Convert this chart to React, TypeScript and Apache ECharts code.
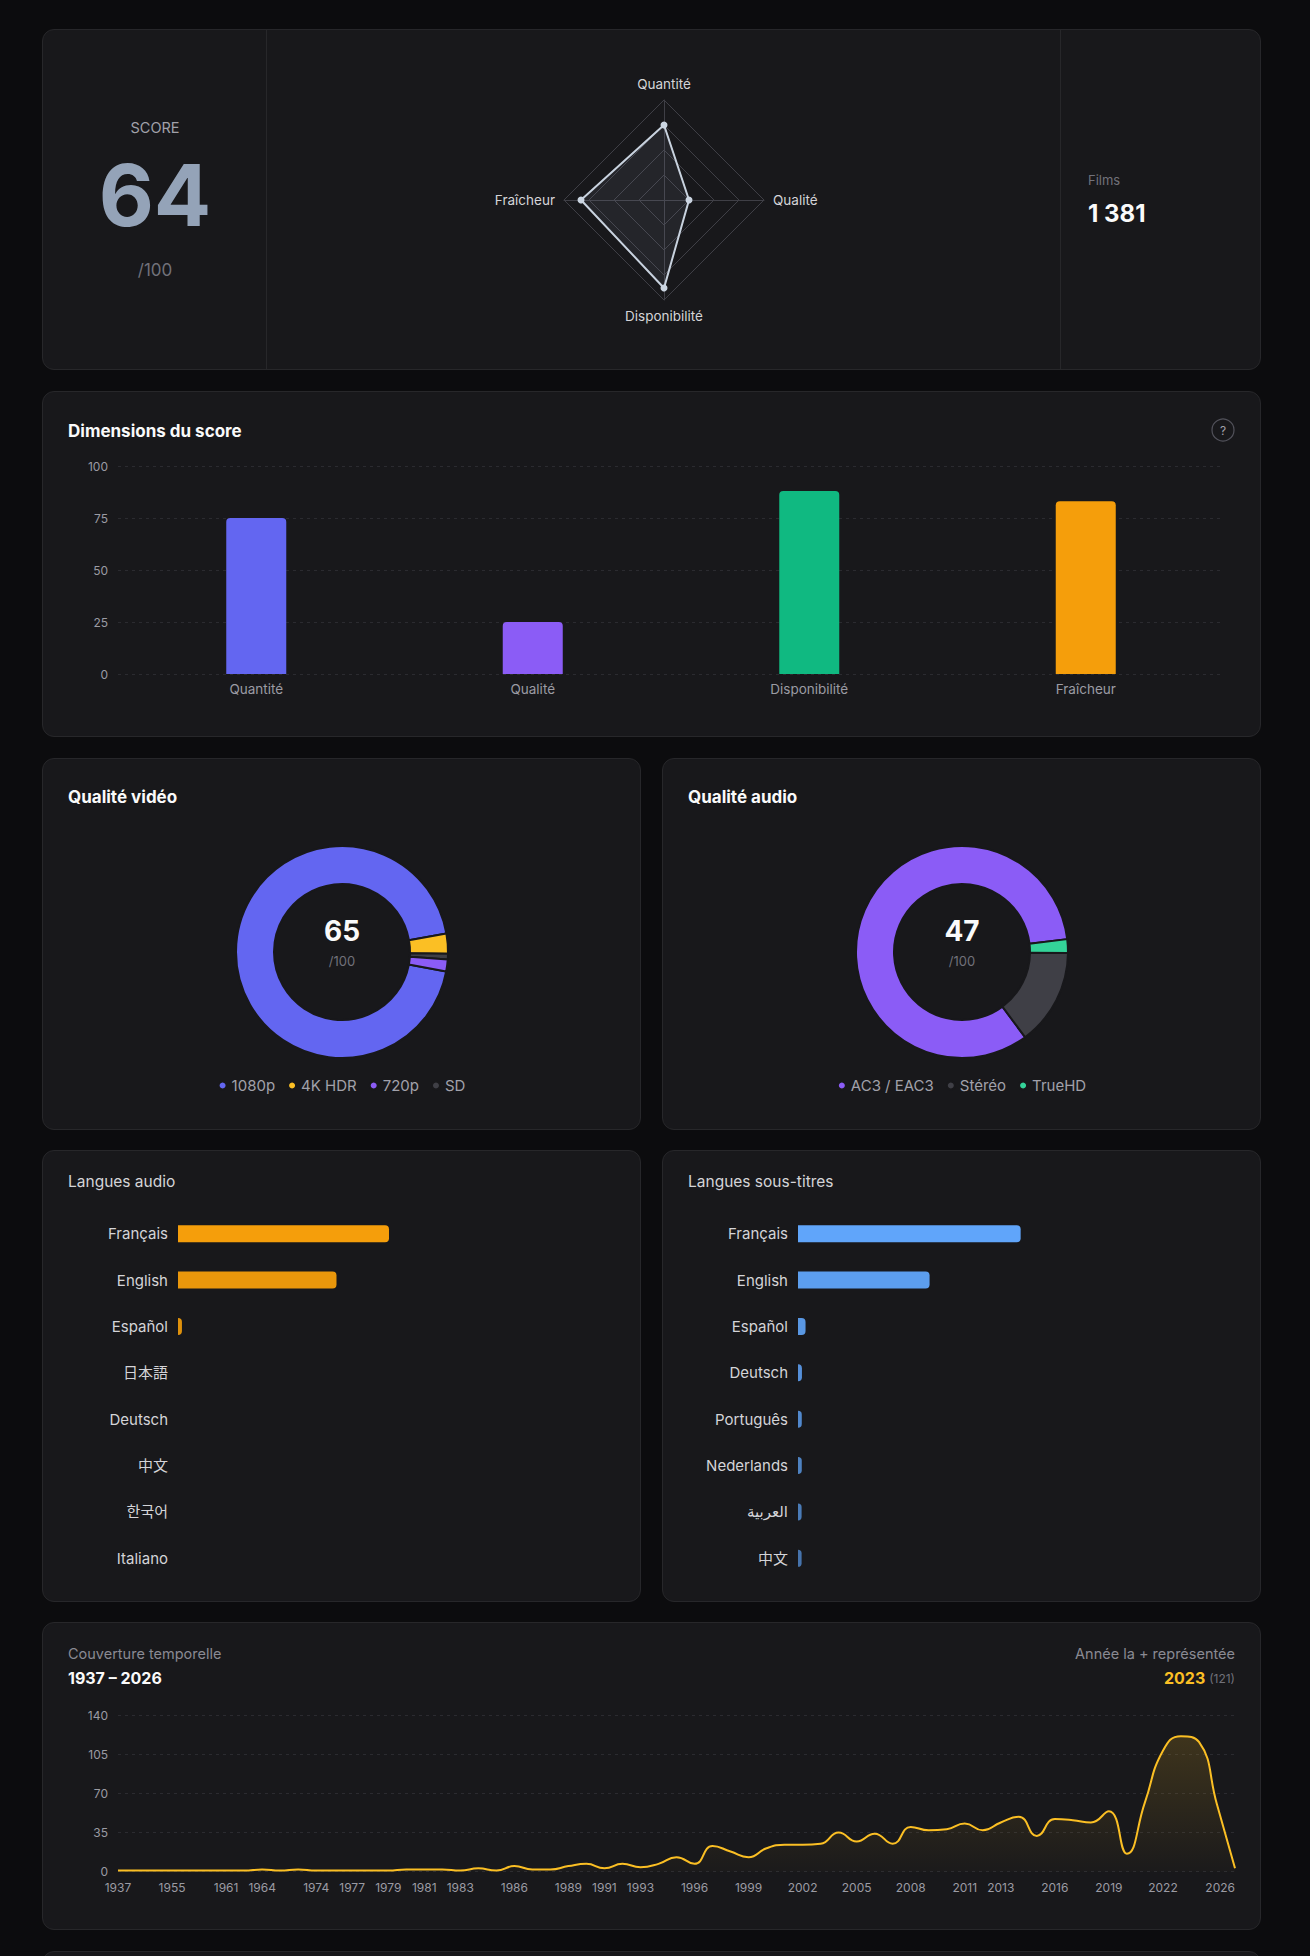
import React, { useEffect, useRef } from 'react';
import * as echarts from 'echarts';

const FONT = 'Inter, "Noto Sans CJK JP", "DejaVu Sans", sans-serif';

// Overall score
const scoreTotal = 64;
const filmCount = 1381;

// Score dimensions (bar chart order)
const dimensionNames = ['Quantité', 'Qualité', 'Disponibilité', 'Fraîcheur'];
const dimensionValues = [75, 25, 88, 83];
const dimensionColors = ['#6366f1', '#8b5cf6', '#10b981', '#f59e0b'];
// Radar axis order: top, left, bottom, right
const radarOrder = ['Quantité', 'Fraîcheur', 'Disponibilité', 'Qualité'];

// Video quality
const videoScore = 65;
const videoNames = ['1080p', '4K HDR', 'SD', '720p'];
const videoCounts = [1302, 42, 12, 25];
const videoColors = ['#6366f1', '#fbbf24', '#3f3f46', '#8b5cf6'];
const videoLegend = ['1080p', '4K HDR', '720p', 'SD'];

// Audio quality
const audioScore = 47;
const audioNames = ['AC3 / EAC3', 'TrueHD', 'Stéréo'];
const audioCounts = [1149, 29, 203];
const audioColors = ['#8b5cf6', '#34d399', '#3f3f46'];
const audioLegend = ['AC3 / EAC3', 'Stéréo', 'TrueHD'];

// Languages
const audioLangNames = ['Français', 'English', 'Español', '日本語', 'Deutsch', '中文', '한국어', 'Italiano'];
const audioLangCounts = [1286, 966, 24, 0, 0, 0, 0, 0];
const subLangNames = ['Français', 'English', 'Español', 'Deutsch', 'Português', 'Nederlands', 'العربية', '中文'];
const subLangCounts = [1357, 802, 46, 24, 23, 23, 22, 22];

// Films per release year
const years = [
  '1937', '1942', '1950', '1955', '1957', '1959', '1961', '1962', '1964', '1966',
  '1971', '1974', '1976', '1977', '1978', '1979', '1980', '1981', '1982', '1983',
  '1984', '1985', '1986', '1987', '1988', '1989', '1990', '1991', '1992', '1993',
  '1994', '1995', '1996', '1997', '1998', '1999', '2000', '2001', '2002', '2003',
  '2004', '2005', '2006', '2007', '2008', '2009', '2010', '2011', '2012', '2013',
  '2014', '2015', '2016', '2017', '2018', '2019', '2020', '2021', '2022', '2023',
  '2024', '2025', '2026',
];
const filmsPerYear = [
  1, 1, 1, 1, 1, 1, 1, 1, 2, 1,
  2, 1, 1, 1, 1, 1, 2, 2, 2, 1,
  3, 1, 5, 2, 2, 5, 7, 3, 7, 4,
  7, 13, 7, 23, 18, 13, 21, 24, 24, 25,
  35, 27, 34, 25, 40, 37, 38, 43, 37, 44,
  49, 32, 47, 46, 44, 54, 16, 62, 108, 121,
  116, 60, 3,
];
const labelledYears = [
  '1937', '1955', '1961', '1964', '1974', '1977', '1979', '1981', '1983', '1986',
  '1989', '1991', '1993', '1996', '1999', '2002', '2005', '2008', '2011', '2013',
  '2016', '2019', '2022', '2026',
];

const AXIS_LABEL = '#9b9ba3';
const GRID_LINE = '#2b2b30';

function groupThousands(n: number) {
  return String(n).replace(/\B(?=(\d{3})+(?!\d))/g, ' ');
}

function txt(x: number, y: number, text: string, opts: any = {}) {
  const align = opts.align || 'left';
  return {
    type: 'text',
    x,
    y,
    silent: true,
    style: {
      text,
      fill: opts.color || '#fafafa',
      fontSize: opts.size || 14,
      fontWeight: opts.weight || 'normal',
      fontFamily: FONT,
      align,
      textAlign: align,
      verticalAlign: 'middle',
      textVerticalAlign: 'middle',
      rich: opts.rich,
    },
  };
}

function Panel(props: { x: number; y: number; w: number; h: number; build: () => any }) {
  const ref = useRef<HTMLDivElement>(null);
  useEffect(() => {
    const chart = echarts.init(ref.current as HTMLDivElement, null, { renderer: 'svg' });
    const opt = props.build();
    chart.setOption({ animation: false, textStyle: { fontFamily: FONT }, ...opt });
    return () => chart.dispose();
  }, []);
  const { x, y, w, h } = props;
  return (
    <>
      <div
        style={{
          position: 'absolute', left: x, top: y, width: w, height: h,
          background: '#18181b', border: '1px solid #27272a', borderRadius: 12, boxSizing: 'border-box',
        }}
      />
      <div ref={ref} style={{ position: 'absolute', left: x, top: y, width: w, height: h }} />
    </>
  );
}

function buildHeader() {
  const radarValues = radarOrder.map((n) => dimensionValues[dimensionNames.indexOf(n)]);
  return {
    graphic: [
      { type: 'line', silent: true, shape: { x1: 224.5, y1: 0, x2: 224.5, y2: 341 }, style: { stroke: '#27272a', lineWidth: 1 } },
      { type: 'line', silent: true, shape: { x1: 1018.5, y1: 0, x2: 1018.5, y2: 341 }, style: { stroke: '#27272a', lineWidth: 1 } },
      txt(113, 98, 'SCORE', { color: '#a1a1aa', size: 14.5, align: 'center' }),
      txt(113, 166, String(scoreTotal), { color: '#94a3b8', size: 85, weight: 'bold', align: 'center' }),
      txt(113, 241, '/100', { color: '#71717a', size: 17, align: 'center' }),
      txt(1046, 151, 'Films', { color: '#71717a', size: 13 }),
      txt(1046, 184, groupThousands(filmCount), { color: '#fafafa', size: 24, weight: 'bold' }),
    ],
    radar: {
      center: [622, 171],
      radius: 100,
      shape: 'polygon',
      splitNumber: 4,
      startAngle: 90,
      indicator: radarOrder.map((name) => ({ name, max: 100 })),
      axisName: { color: '#d4d4d8', fontSize: 13.5, fontFamily: FONT },
      nameGap: 9,
      axisLine: { lineStyle: { color: '#3f3f46' } },
      splitLine: { lineStyle: { color: '#3f3f46' } },
      splitArea: { show: false },
    },
    series: [
      {
        type: 'radar',
        silent: true,
        symbol: 'circle',
        symbolSize: 7,
        lineStyle: { color: '#cbd5e1', width: 2 },
        itemStyle: { color: '#cbd5e1' },
        areaStyle: { color: 'rgba(148,163,184,0.14)' },
        data: [{ value: radarValues, name: 'Score' }],
      },
    ],
  };
}

function buildDimensions() {
  return {
    graphic: [
      txt(26, 40, 'Dimensions du score', { size: 17, weight: 'bold' }),
      { type: 'circle', silent: true, shape: { cx: 1181, cy: 39, r: 11 }, style: { fill: 'none', stroke: '#52525b', lineWidth: 1.2 } },
      txt(1181, 39, '?', { color: '#a1a1aa', size: 12, align: 'center' }),
    ],
    grid: { left: 76, top: 75, width: 1106, height: 208 },
    xAxis: {
      type: 'category',
      data: dimensionNames,
      axisLine: { show: false },
      axisTick: { show: false },
      axisLabel: { color: AXIS_LABEL, fontSize: 13.5, margin: 8 },
    },
    yAxis: {
      type: 'value',
      min: 0,
      max: 100,
      interval: 25,
      axisLabel: { color: AXIS_LABEL, fontSize: 12, margin: 10 },
      splitLine: { lineStyle: { color: GRID_LINE, type: [3, 4] } },
    },
    series: [
      {
        type: 'bar',
        silent: true,
        barWidth: 60,
        data: dimensionValues.map((v, i) => ({
          value: v,
          itemStyle: { color: dimensionColors[i], borderRadius: [4, 4, 0, 0] },
        })),
      },
    ],
  };
}

function buildDonut(title: string, score: number, names: string[], counts: number[], colors: string[], legendOrder: string[], startAngle: number) {
  return {
    graphic: [
      txt(26, 39, title, { size: 17, weight: 'bold' }),
      txt(300, 173, String(score), { size: 28, weight: 'bold', align: 'center' }),
      txt(300, 203, '/100', { color: '#71717a', size: 13, align: 'center' }),
    ],
    legend: {
      data: legendOrder,
      left: 'center',
      top: 315,
      icon: 'circle',
      itemWidth: 8,
      itemHeight: 8,
      itemGap: 12,
      selectedMode: false,
      textStyle: { color: '#a1a1aa', fontSize: 15, fontFamily: FONT },
    },
    series: [
      {
        type: 'pie',
        silent: true,
        center: [300, 194],
        radius: [68, 106],
        startAngle,
        clockwise: true,
        label: { show: false },
        labelLine: { show: false },
        itemStyle: { borderColor: '#18181b', borderWidth: 2 },
        data: names.map((n, i) => ({ name: n, value: counts[i], itemStyle: { color: colors[i] } })),
      },
    ],
  };
}

function buildLanguages(title: string, names: string[], counts: number[], color: string) {
  return {
    graphic: [txt(26, 31, title, { color: '#d4d4d8', size: 15.5 })],
    grid: { left: 136, top: 60.5, width: 443, height: 371 },
    xAxis: { type: 'value', min: 0, max: 2700, show: false },
    yAxis: {
      type: 'category',
      data: names,
      inverse: true,
      axisLine: { show: false },
      axisTick: { show: false },
      axisLabel: { color: '#d4d4d8', fontSize: 15, margin: 10 },
    },
    series: [
      {
        type: 'bar',
        silent: true,
        barWidth: 17,
        data: counts.map((v, i) => ({
          value: v,
          itemStyle: { color, opacity: 1 - i * 0.05, borderRadius: [0, 4, 4, 0] },
        })),
      },
    ],
  };
}

function buildTimeline() {
  let peak = 0;
  filmsPerYear.forEach((v, i) => { if (v > filmsPerYear[peak]) peak = i; });
  return {
    graphic: [
      txt(26, 31, 'Couverture temporelle', { color: '#8a8a93', size: 14.5 }),
      txt(26, 56, `${years[0]} – ${years[years.length - 1]}`, { size: 16, weight: 'bold' }),
      txt(1193, 31, 'Année la + représentée', { color: '#8a8a93', size: 14.5, align: 'right' }),
      txt(1193, 56, `{y|${years[peak]}} {c|(${filmsPerYear[peak]})}`, {
        align: 'right',
        rich: {
          y: { fill: '#fbbf24', color: '#fbbf24', fontSize: 16, fontWeight: 'bold', fontFamily: FONT },
          c: { fill: '#71717a', color: '#71717a', fontSize: 12, fontFamily: FONT },
        },
      }),
    ],
    grid: { left: 76, top: 93, width: 1117, height: 156.7 },
    xAxis: {
      type: 'category',
      data: years,
      boundaryGap: false,
      axisLine: { show: false },
      axisTick: { show: false },
      axisLabel: {
        color: AXIS_LABEL,
        fontSize: 12,
        margin: 10,
        alignMaxLabel: 'right',
        interval: (_i: number, v: string) => labelledYears.includes(v),
      },
    },
    yAxis: {
      type: 'value',
      min: 0,
      max: 140,
      interval: 35,
      axisLabel: { color: AXIS_LABEL, fontSize: 12, margin: 10 },
      splitLine: { lineStyle: { color: GRID_LINE, type: [3, 4] } },
    },
    series: [
      {
        type: 'line',
        silent: true,
        data: filmsPerYear,
        smooth: 0.5,
        symbol: 'none',
        lineStyle: { color: '#fbbf24', width: 2 },
        areaStyle: {
          color: new echarts.graphic.LinearGradient(0, 0, 0, 1, [
            { offset: 0, color: 'rgba(251,191,36,0.24)' },
            { offset: 1, color: 'rgba(251,191,36,0.02)' },
          ]),
        },
      },
    ],
  };
}

export default function App() {
  return (
    <div
      style={{
        position: 'absolute', left: 0, top: 0, width: 1310, height: 1956,
        background: '#0c0c0e', overflow: 'hidden', fontFamily: FONT,
      }}
    >
      <Panel x={42} y={29} w={1219} h={341} build={buildHeader} />
      <Panel x={42} y={391} w={1219} h={346} build={buildDimensions} />
      <Panel
        x={42} y={758} w={599} h={372}
        build={() => buildDonut('Qualité vidéo', videoScore, videoNames, videoCounts, videoColors, videoLegend, 349.4)}
      />
      <Panel
        x={662} y={758} w={599} h={372}
        build={() => buildDonut('Qualité audio', audioScore, audioNames, audioCounts, audioColors, audioLegend, 306.5)}
      />
      <Panel
        x={42} y={1150} w={599} h={452}
        build={() => buildLanguages('Langues audio', audioLangNames, audioLangCounts, '#f59e0b')}
      />
      <Panel
        x={662} y={1150} w={599} h={452}
        build={() => buildLanguages('Langues sous-titres', subLangNames, subLangCounts, '#60a5fa')}
      />
      <Panel x={42} y={1622} w={1219} h={308} build={buildTimeline} />
      <Panel x={42} y={1951} w={1219} h={60} build={() => ({})} />
    </div>
  );
}
